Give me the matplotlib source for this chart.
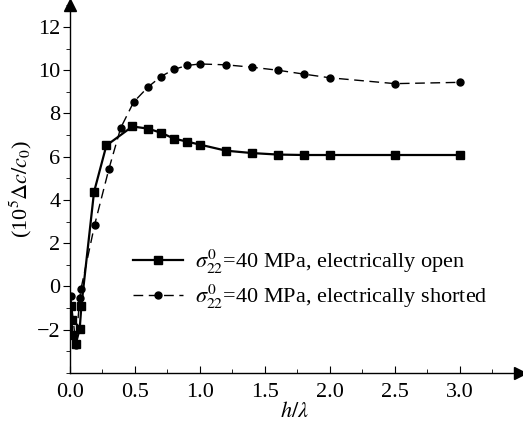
import matplotlib
matplotlib.use("Agg")
import matplotlib.pyplot as plt
from matplotlib.ticker import MultipleLocator

plt.rcParams['font.family'] = ['Liberation Serif', 'DejaVu Serif']
plt.rcParams['mathtext.fontset'] = 'stix'

# electrically open (squares)
h_open = [0.01, 0.013, 0.017, 0.045, 0.075, 0.088, 0.185, 0.28, 0.48, 0.6, 0.7,
          0.8, 0.9, 1.0, 1.2, 1.4, 1.6, 1.8, 2.0, 2.5, 3.0]
v_open = [-0.9, -1.55, -2.25, -2.65, -1.95, -0.88, 4.37, 6.52, 7.4, 7.3, 7.11,
          6.84, 6.70, 6.56, 6.28, 6.17, 6.1, 6.08, 6.08, 6.08, 6.08]

# electrically shorted (circles)
h_short = [0.005, 0.045, 0.075, 0.085, 0.19, 0.3, 0.39, 0.49, 0.6, 0.7,
           0.8, 0.9, 1.0, 1.2, 1.4, 1.6, 1.8, 2.0, 2.5, 3.0]
v_short = [-0.42, -2.7, -0.55, -0.1, 2.86, 5.45, 7.33, 8.53, 9.22, 9.71,
           10.04, 10.22, 10.29, 10.25, 10.14, 10.0, 9.82, 9.65, 9.38, 9.44]

fig = plt.figure(figsize=(5.23, 4.32), dpi=100)
ax = fig.add_axes([0.1338, 0.1366, 0.860, 0.852])

ax.plot(h_open, v_open, color='black', lw=1.6, marker='s', ms=5.5,
        label=r'$\sigma_{22}^{0}$=40 MPa, electrically open')
ax.plot(h_short, v_short, color='black', lw=1.0, ls=(0, (7, 4)), marker='o', ms=5,
        label=r'$\sigma_{22}^{0}$=40 MPa, electrically shorted')

ax.set_xlim(0, 3.46)
ax.set_ylim(-4, 13.02)

ax.spines['top'].set_visible(False)
ax.spines['right'].set_visible(False)
ax.spines['left'].set_linewidth(1.0)
ax.spines['bottom'].set_linewidth(1.0)
ax.plot(1, 0, '>', color='black', ms=8, transform=ax.transAxes, clip_on=False)
ax.plot(0, 1, '^', color='black', ms=8, transform=ax.transAxes, clip_on=False)

ax.set_xticks([0.0, 0.5, 1.0, 1.5, 2.0, 2.5, 3.0])
ax.set_xticklabels(['0.0', '0.5', '1.0', '1.5', '2.0', '2.5', '3.0'])
ax.xaxis.set_minor_locator(MultipleLocator(0.25))
ax.set_yticks([-2, 0, 2, 4, 6, 8, 10, 12])
ax.set_yticklabels(['\u22122', '0', '2', '4', '6', '8', '10', '12'])
ax.yaxis.set_minor_locator(MultipleLocator(1))

ax.tick_params(axis='x', which='both', direction='in', labelsize=16, pad=7)
ax.tick_params(axis='x', which='major', length=5)
ax.tick_params(axis='x', which='minor', length=3)
ax.tick_params(axis='y', which='both', direction='out', labelsize=16, pad=2)
ax.tick_params(axis='y', which='major', length=5)
ax.tick_params(axis='y', which='minor', length=3)

ax.set_xlabel(r'$h/\lambda$', fontsize=16, labelpad=0)
ax.set_ylabel(r'(10$^5$$\Delta c/c_0$)', fontsize=16, labelpad=2)

ax.legend(loc='upper left', bbox_to_anchor=(0.096, 0.394), frameon=False,
          fontsize=16, handlelength=2.25, handletextpad=0.55, labelspacing=0.3,
          borderaxespad=0.5)

fig.savefig('out.png', dpi=100)
